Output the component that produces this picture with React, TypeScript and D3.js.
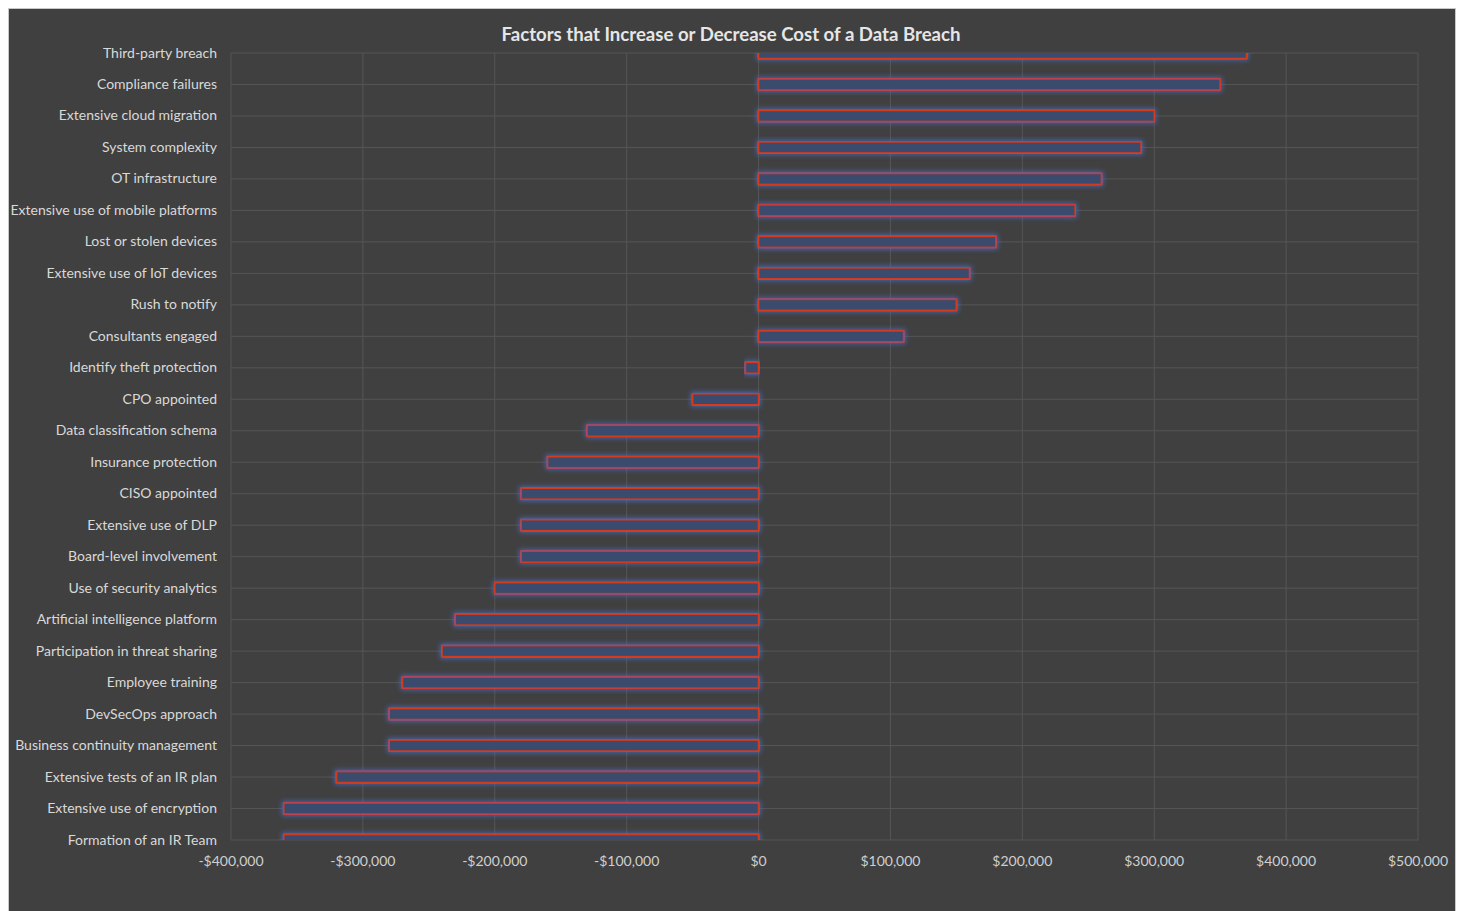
import React from "react";
import * as d3 from "d3";

const categories = [
  "Third-party breach",
  "Compliance failures",
  "Extensive cloud migration",
  "System complexity",
  "OT infrastructure",
  "Extensive use of mobile platforms",
  "Lost or stolen devices",
  "Extensive use of IoT devices",
  "Rush to notify",
  "Consultants engaged",
  "Identify theft protection",
  "CPO appointed",
  "Data classification schema",
  "Insurance protection",
  "CISO appointed",
  "Extensive use of DLP",
  "Board-level involvement",
  "Use of security analytics",
  "Artificial intelligence platform",
  "Participation in threat sharing",
  "Employee training",
  "DevSecOps approach",
  "Business continuity management",
  "Extensive tests of an IR plan",
  "Extensive use of encryption",
  "Formation of an IR Team",
];

const values = [
  370000, 350000, 300000, 290000, 260000, 240000, 180000, 160000, 150000, 110000,
  -10000, -50000, -130000, -160000, -180000, -180000, -180000, -200000, -230000,
  -240000, -270000, -280000, -280000, -320000, -360000, -360000,
];

const xTicks = [-400000, -300000, -200000, -100000, 0, 100000, 200000, 300000, 400000, 500000];

const title = "Factors that Increase or Decrease Cost of a Data Breach";

export default function App() {
  const W = 1460;
  const H = 911;
  const left = 231;
  const right = 1418;
  const top = 53;
  const bottom = 840;

  const x = d3.scaleLinear().domain([-400000, 500000]).range([left, right]);
  const y = d3.scalePoint<string>().domain(categories).range([top, bottom]);
  const barH = 11;
  const fmt = (v: number) => (v < 0 ? "-$" : "$") + d3.format(",")(Math.abs(v));
  const font = "Lato, 'Open Sans', sans-serif";

  return (
    <div style={{ position: "absolute", left: 0, top: 0 }}>
      <svg width={W} height={H} style={{ display: "block" }}>
        <defs>
          <filter id="glow" x="-10%" y="-150%" width="120%" height="400%">
            <feMorphology in="SourceAlpha" operator="dilate" radius="1" result="d" />
            <feGaussianBlur in="d" stdDeviation="2.5" result="b" />
            <feFlood floodColor="#4a6cc0" floodOpacity="0.85" />
            <feComposite in2="b" operator="in" result="g" />
            <feMerge>
              <feMergeNode in="g" />
              <feMergeNode in="SourceGraphic" />
            </feMerge>
          </filter>
          <clipPath id="plot">
            <rect x={left - 10} y={top} width={right - left + 20} height={bottom - top} />
          </clipPath>
        </defs>
        <rect x={0} y={0} width={W} height={H} fill="#ffffff" />
        <rect x={8.5} y={8.5} width={1447} height={H} fill="#404040" stroke="#c8c8c8" strokeWidth={1} />

        <text x={731} y={41} textAnchor="middle" fill="#e6e6e6" fontFamily={font} fontWeight="bold" fontSize={18.6}>
          {title}
        </text>

        <g>
          {categories.map((c) => (
            <line key={c} x1={left} x2={right} y1={y(c)!} y2={y(c)!} stroke="#555555" strokeWidth={1} />
          ))}
          {xTicks.map((t) => (
            <line key={t} x1={x(t)} x2={x(t)} y1={top} y2={bottom} stroke="#555555" strokeWidth={1} />
          ))}
        </g>

        <g clipPath="url(#plot)">
          {values.map((v, i) => {
            const x0 = x(Math.min(0, v));
            const x1 = x(Math.max(0, v));
            return (
              <rect
                key={categories[i]}
                x={x0}
                y={y(categories[i])! - barH / 2}
                width={x1 - x0}
                height={barH}
                fill="#3b4b6e"
                stroke="#d23a1c"
                strokeWidth={1.6}
                filter="url(#glow)"
              />
            );
          })}
        </g>

        <g>
          {categories.map((c) => (
            <text key={c} x={217} y={y(c)! + 4.5} textAnchor="end" fill="#d9d9d9" fontFamily={font} fontSize={14}>
              {c}
            </text>
          ))}
        </g>

        <g>
          {xTicks.map((t) => (
            <text key={t} x={x(t)} y={866} textAnchor="middle" fill="#cfcfcf" fontFamily={font} fontSize={14}>
              {fmt(t)}
            </text>
          ))}
        </g>
      </svg>
    </div>
  );
}
